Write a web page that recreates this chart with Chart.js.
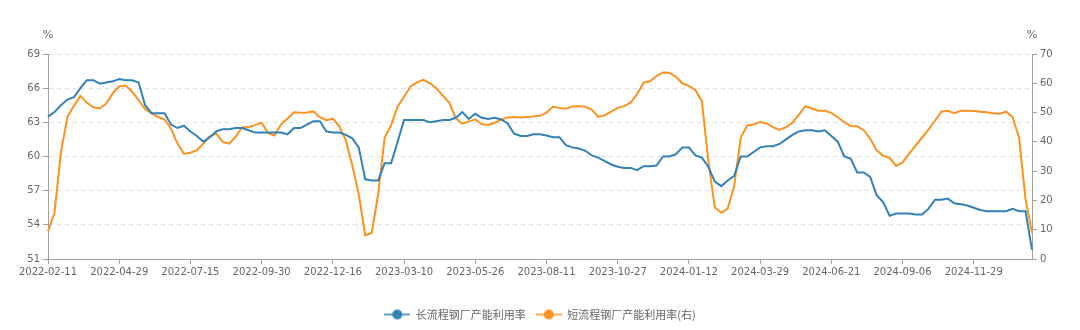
<!DOCTYPE html>
<html>
<head>
<meta charset="utf-8">
<script src="https://cdn.jsdelivr.net/npm/chart.js@4.4.1/dist/chart.umd.min.js"></script>
<style>
  html, body { margin: 0; padding: 0; background: #fff; }
  #box { width: 1080px; height: 330px; }
</style>
</head>
<body>
<div id="box"><canvas id="myChart" width="1080" height="330"></canvas></div>
<script>
// weekly dates, a few holiday weeks are missing in the source
var firstDate = '2022-02-11';
var missingWeeks = ['2023-01-27', '2024-05-03', '2024-10-04'];
var pointCount = 153;

// 长流程钢厂产能利用率 (left axis, %)
var longProcess = [
  63.5, 63.9, 64.5, 65.0, 65.2, 66.0, 66.7, 66.7, 66.4, 66.5, 66.6, 66.8, 66.7, 66.7, 66.5, 64.5, 63.8, 63.8, 63.8, 62.8, 62.5, 62.7, 62.2, 61.8,
  61.3, 61.7, 62.2, 62.4, 62.4, 62.5, 62.5, 62.3, 62.1, 62.1, 62.1, 62.1, 62.1, 61.95, 62.5, 62.5, 62.8, 63.1, 63.1, 62.2, 62.1, 62.1, 61.9, 61.6, 60.8, 58.0, 57.9, 57.9, 59.4, 59.4,
  61.3, 63.2, 63.2, 63.2, 63.2, 63.0, 63.1, 63.2, 63.2, 63.4, 63.9, 63.3, 63.75, 63.4, 63.3, 63.4, 63.25, 62.9, 62.0, 61.8, 61.8, 61.95, 61.95, 61.85, 61.7, 61.7,
  61.0, 60.8, 60.7, 60.5, 60.1, 59.9, 59.6, 59.3, 59.1, 59.0, 59.0, 58.8, 59.15, 59.15, 59.2, 60.0, 60.0, 60.2, 60.8, 60.8, 60.1, 59.9, 59.1, 57.8, 57.4, 57.9, 58.3, 60.0, 60.0, 60.4, 60.8, 60.9,
  60.9, 61.1, 61.5, 61.9, 62.2, 62.3, 62.3, 62.2, 62.3, 61.8, 61.3, 60.0, 59.8, 58.6, 58.6, 58.2, 56.6, 56.0, 54.8, 55.0, 55.0, 55.0, 54.9, 54.9, 55.4, 56.2, 56.2, 56.3, 55.9, 55.8,
  55.7, 55.5, 55.3, 55.2, 55.2, 55.2, 55.2, 55.4, 55.2, 55.2, 51.8
];

// 短流程钢厂产能利用率 (right axis, %)
var shortProcess = [
  9.5, 15.8, 36.5, 48.5, 52.3, 55.7, 53.4, 51.8, 51.4, 53.1, 56.6, 58.9, 59.2, 57.1, 54.3, 51.1, 49.7, 48.5, 47.7, 44.5, 39.4, 35.9, 36.3, 37.2,
  39.4, 41.9, 42.8, 40.0, 39.4, 41.8, 45.0, 45.1, 45.7, 46.5, 43.0, 42.2, 46.0, 48.0, 50.1, 49.9, 50.0, 50.4, 48.4, 47.4, 47.9, 45.3, 40.5, 31.9, 22.1, 8.1, 8.9, 22.1, 41.4, 45.7,
  52.0, 55.4, 58.9, 60.3, 61.2, 60.0, 58.3, 55.8, 53.3, 48.0, 46.2, 47.0, 47.7, 46.0, 45.8, 46.5, 47.6, 48.3, 48.5, 48.3, 48.5, 48.7, 48.9, 50.0, 52.0, 51.6,
  51.3, 52.1, 52.2, 52.0, 51.0, 48.5, 49.1, 50.3, 51.6, 52.2, 53.4, 56.3, 60.2, 60.7, 62.5, 63.7, 63.6, 62.2, 60.0, 59.1, 57.7, 53.9, 33.6, 17.6, 15.8, 17.2, 25.0, 41.4, 45.6, 45.9, 46.8,
  46.3, 45.0, 44.1, 45.0, 46.6, 49.3, 52.2, 51.4, 50.6, 50.6, 49.9, 48.4, 46.7, 45.4, 45.3, 44.0, 41.1, 37.1, 35.3, 34.5, 31.8, 33.0, 35.9, 38.7, 41.4, 44.2, 47.2, 50.3, 50.6, 49.8, 50.6,
  50.6, 50.5, 50.3, 50.1, 49.8, 49.6, 50.3, 48.5, 41.4, 20.4, 9.0
];

var leftTicks = [51, 69, 3];
var rightTicks = [0, 70, 10];
var labelEvery = 11;

function buildDates(start, n, skip) {
  var out = [];
  var d = new Date(start + 'T00:00:00Z');
  while (out.length < n) {
    var s = d.toISOString().slice(0, 10);
    if (skip.indexOf(s) < 0) out.push(s);
    d.setUTCDate(d.getUTCDate() + 7);
  }
  return out;
}
var dates = buildDates(firstDate, pointCount, missingWeeks);

var blue = '#3282b5';
var orange = '#fa9322';
var textGray = '#666';
var axisGray = '#a0a0a0';
var tickFont = { family: '"DejaVu Sans", Verdana, sans-serif', size: 10 };

function legendMark(color) {
  var c = document.createElement('canvas');
  c.width = 26; c.height = 12;
  var g = c.getContext('2d');
  g.strokeStyle = color; g.lineWidth = 1.5;
  g.beginPath(); g.moveTo(0, 6); g.lineTo(26, 6); g.stroke();
  g.fillStyle = color;
  g.beginPath(); g.arc(13, 6, 5, 0, Math.PI * 2); g.fill();
  return c;
}

// the little "%" over each y axis
var unitLabels = {
  id: 'unitLabels',
  afterDraw: function (chart) {
    var ctx = chart.ctx, area = chart.chartArea;
    ctx.save();
    ctx.font = '11px "DejaVu Sans", sans-serif';
    ctx.fillStyle = textGray;
    ctx.textAlign = 'center';
    ctx.textBaseline = 'middle';
    ctx.fillText('%', area.left, 35);
    ctx.fillText('%', area.right, 35);
    ctx.restore();
  }
};

var ctx = document.getElementById('myChart').getContext('2d');
var lineChart = new Chart(ctx, {
  type: 'line',
  data: {
    labels: dates,
    datasets: [{
      label: '长流程钢厂产能利用率',
      data: longProcess,
      yAxisID: 'y',
      borderColor: blue,
      backgroundColor: blue,
      borderWidth: 2,
      pointRadius: 0,
      pointStyle: legendMark(blue),
      tension: 0
    }, {
      label: '短流程钢厂产能利用率(右)',
      data: shortProcess,
      yAxisID: 'y1',
      borderColor: orange,
      backgroundColor: orange,
      borderWidth: 2,
      pointRadius: 0,
      pointStyle: legendMark(orange),
      tension: 0
    }]
  },
  options: {
    responsive: false,
    animation: false,
    devicePixelRatio: 1,
    layout: { padding: { top: 54, left: 0, right: 0, bottom: 0 } },
    plugins: {
      legend: {
        position: 'bottom',
        labels: {
          usePointStyle: true,
          pointStyleWidth: 26,
          color: textGray,
          font: { family: '"Noto Sans CJK SC", sans-serif', size: 11 },
          padding: 10
        }
      },
      tooltip: { enabled: false }
    },
    scales: {
      x: {
        type: 'category',
        afterFit: function (s) { s.height = 40; },
        afterBuildTicks: function (s) {
          s.ticks = s.ticks.filter(function (t) { return t.value % labelEvery === 0; });
        },
        ticks: { autoSkip: false, maxRotation: 0, color: textGray, font: tickFont, padding: 2 },
        grid: { drawOnChartArea: false, tickLength: 5, tickColor: axisGray },
        border: { color: axisGray }
      },
      y: {
        position: 'left',
        min: leftTicks[0], max: leftTicks[1],
        afterFit: function (s) { s.width = 48; },
        ticks: { stepSize: leftTicks[2], color: textGray, font: tickFont, padding: 3 },
        grid: { color: '#dedede', tickLength: 5, tickColor: axisGray },
        border: { color: axisGray, dash: [4, 4] }
      },
      y1: {
        position: 'right',
        min: rightTicks[0], max: rightTicks[1],
        afterFit: function (s) { s.width = 48; },
        ticks: { stepSize: rightTicks[2], color: textGray, font: tickFont, padding: 3 },
        grid: { drawOnChartArea: false, tickLength: 5, tickColor: axisGray },
        border: { color: axisGray }
      }
    }
  },
  plugins: [unitLabels]
});
</script>
</body>
</html>
